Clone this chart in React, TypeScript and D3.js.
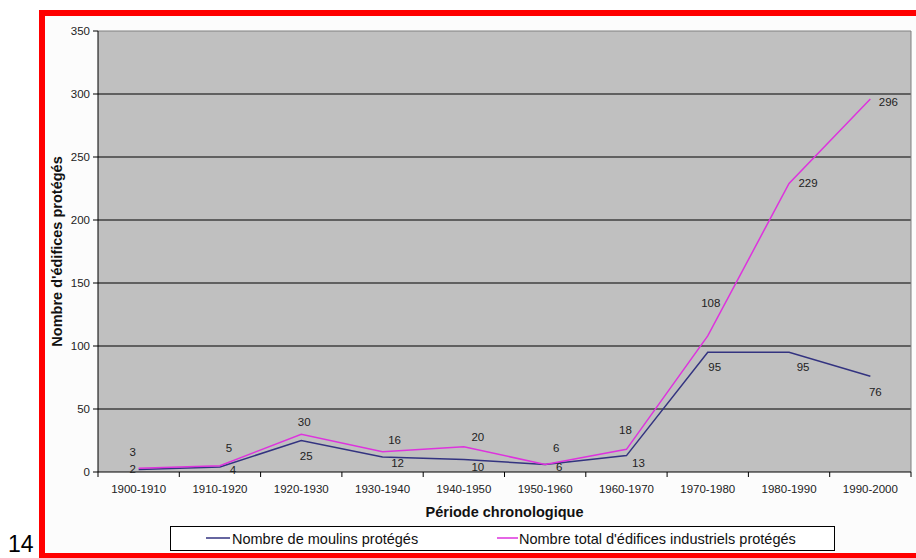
import React from "react";
import * as d3 from "d3";

const periods = [
  "1900-1910", "1910-1920", "1920-1930", "1930-1940", "1940-1950",
  "1950-1960", "1960-1970", "1970-1980", "1980-1990", "1990-2000",
];
const moulins = [2, 4, 25, 12, 10, 6, 13, 95, 95, 76];
const totalEdifices = [3, 5, 30, 16, 20, 6, 18, 108, 229, 296];
const yTicks = [0, 50, 100, 150, 200, 250, 300, 350];

const seriesNames = ["Nombre de moulins protégés", "Nombre total d'édifices industriels protégés"];
const yTitle = "Nombre d'édifices protégés";
const xTitle = "Période chronologique";
const pageNumber = "14";

// label offsets (layout, px) relative to each point
const moulinsLabelOffset: [number, number][] = [
  [-6, -1], [13, 3], [5, 15], [15, 6], [14, 8], [14, 3], [12, 7], [7, 15], [14, 15], [5, 16],
];
const totalLabelOffset: [number, number][] = [
  [-6, -16], [9, -18], [3, -12], [12, -12], [14, -10], [11, -16], [-1, -19], [3, -33], [19, 0], [18, 3],
];

const W = 916, H = 558;
const M = { left: 98, right: 911, top: 31, bottom: 472 };
const NAVY = "#333380";
const PINK = "#dd33dd";
const FONT = "'Liberation Sans', Arial, sans-serif";

export default function App() {
  const x = d3.scaleBand<string>().domain(periods).range([M.left, M.right]);
  const y = d3.scaleLinear().domain([0, 350]).range([M.bottom, M.top]);
  const cx = (p: string) => (x(p) as number) + x.bandwidth() / 2;

  const line = d3.line<number>().x((_, i) => cx(periods[i])).y((v) => y(v));

  return (
    <svg width={W} height={H} style={{ position: "absolute", left: 0, top: 0, background: "#fff" }}
      fontFamily={FONT}>
      {/* red frame */}
      <rect x={39} y={10} width={W - 39} height={H - 10} fill="#ff0000" />
      <rect x={45} y={16} width={W - 45} height={H - 16 - 5} fill="#fcfcfc" />

      {/* plot area */}
      <rect x={M.left} y={M.top} width={M.right - M.left} height={M.bottom - M.top} fill="#c0c0c0" />
      {yTicks.filter((t) => t > 0 && t < 350).map((t) => (
        <line key={t} x1={M.left} x2={M.right} y1={y(t)} y2={y(t)} stroke="#000" strokeWidth={1} />
      ))}
      <line x1={M.left} x2={M.right} y1={M.top} y2={M.top} stroke="#808080" />
      <line x1={M.right} x2={M.right} y1={M.top} y2={M.bottom} stroke="#808080" />

      {/* axes */}
      <line x1={M.left} x2={M.left} y1={M.top} y2={M.bottom} stroke="#000" />
      <line x1={M.left} x2={M.right} y1={M.bottom} y2={M.bottom} stroke="#000" />
      {yTicks.map((t) => (
        <g key={t}>
          <line x1={M.left - 5} x2={M.left} y1={y(t)} y2={y(t)} stroke="#000" />
          <text x={M.left - 8} y={y(t)} dy="0.35em" textAnchor="end" fontSize={11.5} fill="#222">{t}</text>
        </g>
      ))}
      {periods.map((p) => (
        <g key={p}>
          <line x1={x(p) as number} x2={x(p) as number} y1={M.bottom} y2={M.bottom + 5} stroke="#000" />
          <text x={cx(p)} y={M.bottom + 21} textAnchor="middle" fontSize={11.5} fill="#222">{p}</text>
        </g>
      ))}
      <line x1={M.right} x2={M.right} y1={M.bottom} y2={M.bottom + 5} stroke="#000" />

      {/* titles */}
      <text transform={`translate(62,${(M.top + M.bottom) / 2}) rotate(-90)`} textAnchor="middle"
        fontSize={14.5} fontWeight="bold" fill="#111">{yTitle}</text>
      <text x={(M.left + M.right) / 2} y={517} textAnchor="middle" fontSize={14.5} fontWeight="bold" fill="#111">{xTitle}</text>

      {/* lines */}
      <path d={line(moulins) ?? ""} fill="none" stroke={NAVY} strokeWidth={1.5} />
      <path d={line(totalEdifices) ?? ""} fill="none" stroke={PINK} strokeWidth={1.5} />

      {/* data labels */}
      {totalEdifices.map((v, i) => (
        <text key={"t" + i} x={cx(periods[i]) + totalLabelOffset[i][0]} y={y(v) + totalLabelOffset[i][1]}
          dy="0.35em" textAnchor="middle" fontSize={11.5} fill="#222">{v}</text>
      ))}
      {moulins.map((v, i) => (
        <text key={"m" + i} x={cx(periods[i]) + moulinsLabelOffset[i][0]} y={y(v) + moulinsLabelOffset[i][1]}
          dy="0.35em" textAnchor="middle" fontSize={11.5} fill="#222">{v}</text>
      ))}

      {/* legend */}
      <rect x={170.5} y={526.5} width={664} height={24} fill="#fff" stroke="#000" />
      <line x1={206} x2={230} y1={538} y2={538} stroke={NAVY} strokeWidth={1.5} />
      <text x={232} y={544} fontSize={14.5} fill="#111">{seriesNames[0]}</text>
      <line x1={497} x2={518} y1={538} y2={538} stroke={PINK} strokeWidth={1.5} />
      <text x={519} y={544} fontSize={14.5} fill="#111">{seriesNames[1]}</text>

      {/* page number */}
      <text x={8} y={552} fontSize={23} fill="#000">{pageNumber}</text>
    </svg>
  );
}
